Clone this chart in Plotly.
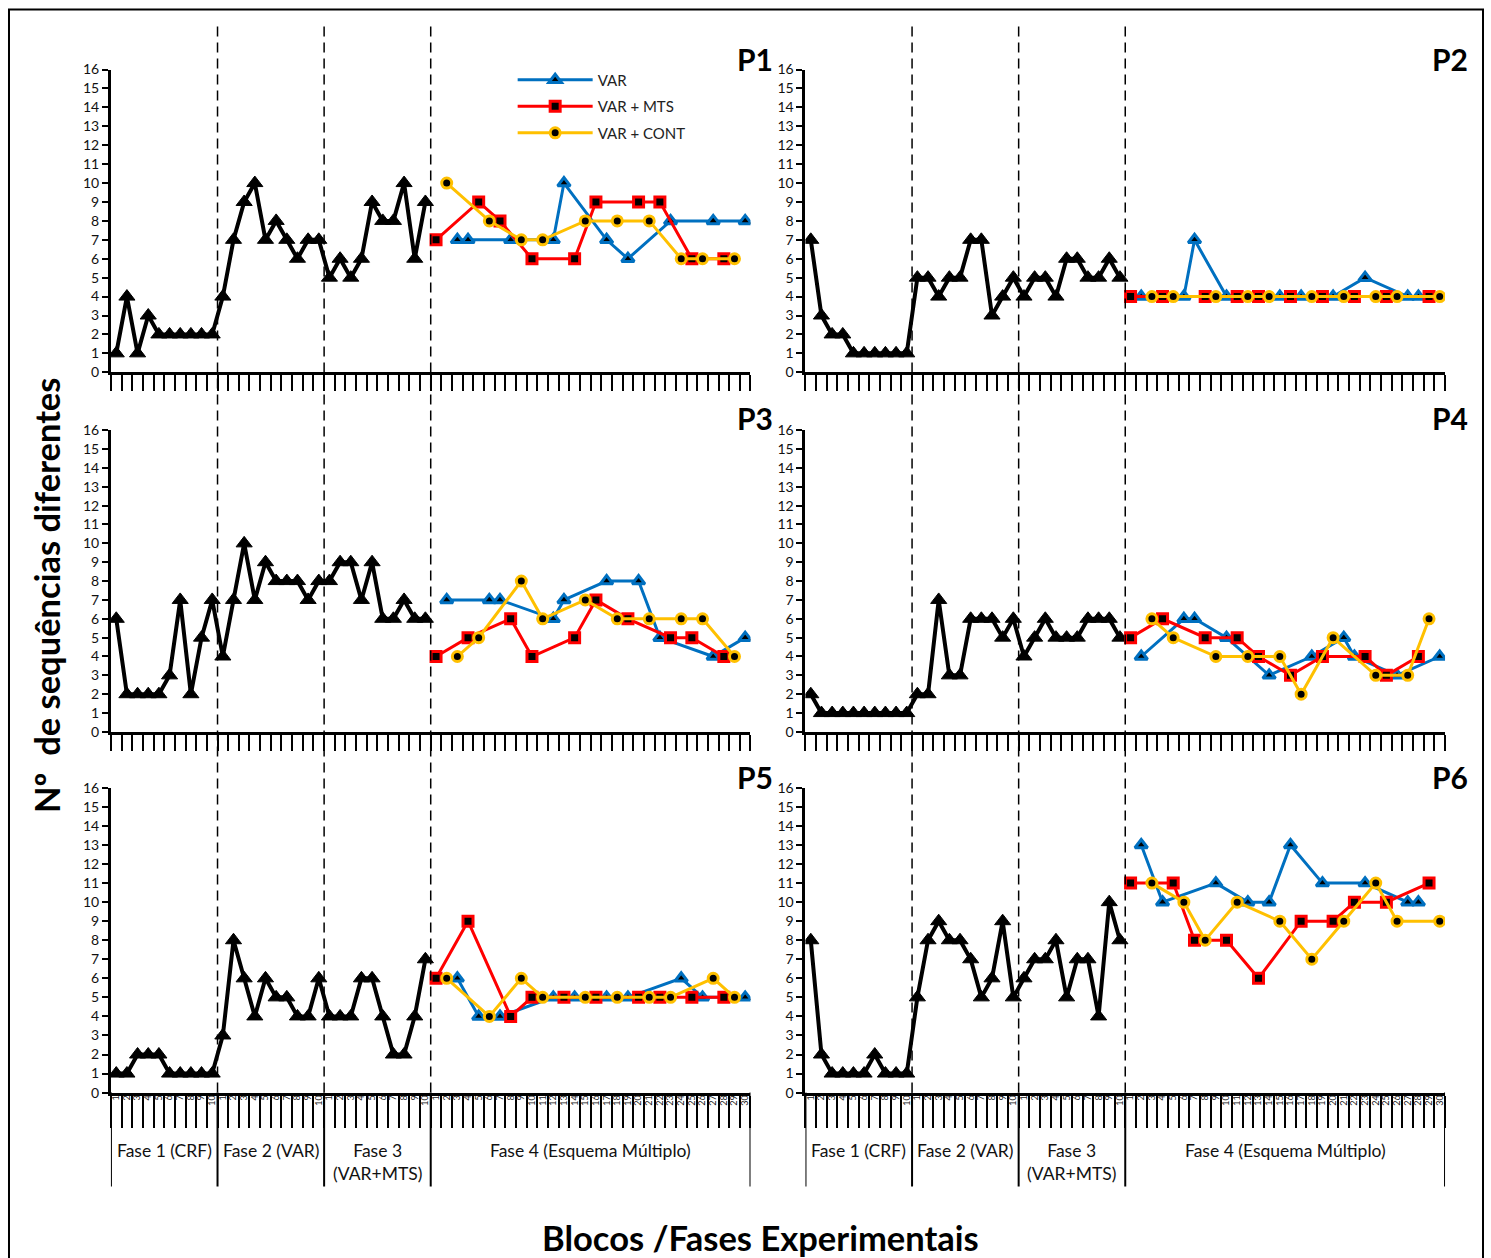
import plotly.graph_objects as go

W, H = 1491, 1258

# ---- Data: number of different sequences per block ----
# Fase 1 (CRF), Fase 2 (VAR), Fase 3 (VAR+MTS): 10 blocks each
# Fase 4 (Esquema Múltiplo): 30 blocks, components VAR / VAR + MTS / VAR + CONT

p1_crf = [1, 4, 1, 3, 2, 2, 2, 2, 2, 2]
p1_var = [4, 7, 9, 10, 7, 8, 7, 6, 7, 7]
p1_mts = [5, 6, 5, 6, 9, 8, 8, 10, 6, 9]
p1_mult_var_blocos = [3, 4, 8, 12, 13, 17, 19, 23, 27, 30]
p1_mult_var = [7, 7, 7, 7, 10, 7, 6, 8, 8, 8]
p1_mult_mts_blocos = [1, 5, 7, 10, 14, 16, 20, 22, 25, 28]
p1_mult_mts = [7, 9, 8, 6, 6, 9, 9, 9, 6, 6]
p1_mult_cont_blocos = [2, 6, 9, 11, 15, 18, 21, 24, 26, 29]
p1_mult_cont = [10, 8, 7, 7, 8, 8, 8, 6, 6, 6]

p2_crf = [7, 3, 2, 2, 1, 1, 1, 1, 1, 1]
p2_var = [5, 5, 4, 5, 5, 7, 7, 3, 4, 5]
p2_mts = [4, 5, 5, 4, 6, 6, 5, 5, 6, 5]
p2_mult_var_blocos = [2, 6, 7, 10, 15, 17, 20, 23, 27, 28]
p2_mult_var = [4, 4, 7, 4, 4, 4, 4, 5, 4, 4]
p2_mult_mts_blocos = [1, 4, 8, 11, 13, 16, 19, 22, 25, 29]
p2_mult_mts = [4, 4, 4, 4, 4, 4, 4, 4, 4, 4]
p2_mult_cont_blocos = [3, 5, 9, 12, 14, 18, 21, 24, 26, 30]
p2_mult_cont = [4, 4, 4, 4, 4, 4, 4, 4, 4, 4]

p3_crf = [6, 2, 2, 2, 2, 3, 7, 2, 5, 7]
p3_var = [4, 7, 10, 7, 9, 8, 8, 8, 7, 8]
p3_mts = [8, 9, 9, 7, 9, 6, 6, 7, 6, 6]
p3_mult_var_blocos = [2, 6, 7, 12, 13, 17, 20, 22, 27, 30]
p3_mult_var = [7, 7, 7, 6, 7, 8, 8, 5, 4, 5]
p3_mult_mts_blocos = [1, 4, 8, 10, 14, 16, 19, 23, 25, 28]
p3_mult_mts = [4, 5, 6, 4, 5, 7, 6, 5, 5, 4]
p3_mult_cont_blocos = [3, 5, 9, 11, 15, 18, 21, 24, 26, 29]
p3_mult_cont = [4, 5, 8, 6, 7, 6, 6, 6, 6, 4]

p4_crf = [2, 1, 1, 1, 1, 1, 1, 1, 1, 1]
p4_var = [2, 2, 7, 3, 3, 6, 6, 6, 5, 6]
p4_mts = [4, 5, 6, 5, 5, 5, 6, 6, 6, 5]
p4_mult_var_blocos = [2, 6, 7, 10, 14, 18, 21, 22, 26, 30]
p4_mult_var = [4, 6, 6, 5, 3, 4, 5, 4, 3, 4]
p4_mult_mts_blocos = [1, 4, 8, 11, 13, 16, 19, 23, 25, 28]
p4_mult_mts = [5, 6, 5, 5, 4, 3, 4, 4, 3, 4]
p4_mult_cont_blocos = [3, 5, 9, 12, 15, 17, 20, 24, 27, 29]
p4_mult_cont = [6, 5, 4, 4, 4, 2, 5, 3, 3, 6]

p5_crf = [1, 1, 2, 2, 2, 1, 1, 1, 1, 1]
p5_var = [3, 8, 6, 4, 6, 5, 5, 4, 4, 6]
p5_mts = [4, 4, 4, 6, 6, 4, 2, 2, 4, 7]
p5_mult_var_blocos = [3, 5, 7, 12, 14, 17, 19, 24, 26, 30]
p5_mult_var = [6, 4, 4, 5, 5, 5, 5, 6, 5, 5]
p5_mult_mts_blocos = [1, 4, 8, 10, 13, 16, 20, 22, 25, 28]
p5_mult_mts = [6, 9, 4, 5, 5, 5, 5, 5, 5, 5]
p5_mult_cont_blocos = [2, 6, 9, 11, 15, 18, 21, 23, 27, 29]
p5_mult_cont = [6, 4, 6, 5, 5, 5, 5, 5, 6, 5]

p6_crf = [8, 2, 1, 1, 1, 1, 2, 1, 1, 1]
p6_var = [5, 8, 9, 8, 8, 7, 5, 6, 9, 5]
p6_mts = [6, 7, 7, 8, 5, 7, 7, 4, 10, 8]
p6_mult_var_blocos = [2, 4, 9, 12, 14, 16, 19, 23, 27, 28]
p6_mult_var = [13, 10, 11, 10, 10, 13, 11, 11, 10, 10]
p6_mult_mts_blocos = [1, 5, 7, 10, 13, 17, 20, 22, 25, 29]
p6_mult_mts = [11, 11, 8, 8, 6, 9, 9, 10, 10, 11]
p6_mult_cont_blocos = [3, 6, 8, 11, 15, 18, 21, 24, 26, 30]
p6_mult_cont = [11, 10, 8, 10, 9, 7, 9, 11, 9, 9]

participantes = ["P1", "P2", "P3", "P4", "P5", "P6"]
fases = ["Fase 1 (CRF)", "Fase 2 (VAR)", "Fase 3<br>(VAR+MTS)", "Fase 4 (Esquema Múltiplo)"]
blocos_por_fase = [10, 10, 10, 30]
y_ticks = list(range(0, 17))
serie_nomes = ["VAR", "VAR + MTS", "VAR + CONT"]
serie_cores = ["#0070C0", "#FF0000", "#FFC000"]
serie_simbolos = ["triangle-up", "square", "circle"]

dados = {
    "P1": (p1_crf, p1_var, p1_mts, [(p1_mult_var_blocos, p1_mult_var), (p1_mult_mts_blocos, p1_mult_mts), (p1_mult_cont_blocos, p1_mult_cont)]),
    "P2": (p2_crf, p2_var, p2_mts, [(p2_mult_var_blocos, p2_mult_var), (p2_mult_mts_blocos, p2_mult_mts), (p2_mult_cont_blocos, p2_mult_cont)]),
    "P3": (p3_crf, p3_var, p3_mts, [(p3_mult_var_blocos, p3_mult_var), (p3_mult_mts_blocos, p3_mult_mts), (p3_mult_cont_blocos, p3_mult_cont)]),
    "P4": (p4_crf, p4_var, p4_mts, [(p4_mult_var_blocos, p4_mult_var), (p4_mult_mts_blocos, p4_mult_mts), (p4_mult_cont_blocos, p4_mult_cont)]),
    "P5": (p5_crf, p5_var, p5_mts, [(p5_mult_var_blocos, p5_mult_var), (p5_mult_mts_blocos, p5_mult_mts), (p5_mult_cont_blocos, p5_mult_cont)]),
    "P6": (p6_crf, p6_var, p6_mts, [(p6_mult_var_blocos, p6_mult_var), (p6_mult_mts_blocos, p6_mult_mts), (p6_mult_cont_blocos, p6_mult_cont)]),
}

# ---- Layout geometry (pixels -> paper) ----
# the page is shown with a small top offset and vertical squeeze; positions below
# are given in on-screen pixels and converted back to figure coordinates
Y_OFF, Y_SCALE = 8.4, 0.9874

def px(x):
    return x / W

def py(y):
    return 1 - ((y - Y_OFF) / Y_SCALE) / H

col_dom = [(px(110), px(750)), (px(805), px(1445))]
row_px = [(372, 69), (732, 430), (1093, 788)]  # (y of 0, y of 16)
row_dom = [(py(a), py(b)) for a, b in row_px]

FONT = "Lato"
n_total = sum(blocos_por_fase)
limites = [0.5]
for n in blocos_por_fase:
    limites.append(limites[-1] + n)
inicio_f4 = limites[3] - 0.5  # offset of Fase 4 blocks

fig = go.Figure()
layout = dict(
    width=W, height=H, margin=dict(l=0, r=0, t=0, b=0),
    paper_bgcolor="white", plot_bgcolor="white",
    font=dict(family=FONT, color="black"),
    showlegend=True,
)
shapes, annotations = [], []

for i, p in enumerate(participantes):
    idx = i + 1
    r, c = divmod(i, 2)
    xa = "x" if idx == 1 else f"x{idx}"
    ya = "y" if idx == 1 else f"y{idx}"
    xkey = "xaxis" if idx == 1 else f"xaxis{idx}"
    ykey = "yaxis" if idx == 1 else f"yaxis{idx}"
    bottom = r == 2

    layout[xkey] = dict(
        domain=list(col_dom[c]), anchor=ya, range=[0.5, n_total + 0.5],
        tickmode="linear", tick0=0.5, dtick=1,
        ticks="outside", ticklen=32 if bottom else 16, tickwidth=2, tickcolor="black",
        showticklabels=False, showline=True, linewidth=3, linecolor="black",
        showgrid=False, zeroline=False, fixedrange=True,
    )
    layout[ykey] = dict(
        domain=list(row_dom[r]), anchor=xa, range=[0, 16],
        tickmode="array", tickvals=y_ticks, ticktext=[str(v) for v in y_ticks],
        ticks="outside", ticklen=6, tickwidth=2, tickcolor="black",
        tickfont=dict(size=14, family=FONT, color="#111"),
        showline=True, linewidth=3, linecolor="black",
        showgrid=False, zeroline=False, fixedrange=True,
    )

    crf, var, mts, mult = dados[p]
    base = crf + var + mts
    fig.add_trace(go.Scatter(
        x=list(range(1, len(base) + 1)), y=base, xaxis=xa, yaxis=ya,
        mode="lines+markers", showlegend=False,
        line=dict(color="black", width=4),
        marker=dict(symbol="triangle-up", size=14, color="black", line=dict(color="black", width=1)),
        hoverinfo="skip",
    ))
    for s, (blocos, vals) in enumerate(mult):
        fig.add_trace(go.Scatter(
            x=[inicio_f4 + b for b in blocos], y=vals, xaxis=xa, yaxis=ya,
            mode="lines+markers", name=serie_nomes[s], showlegend=(idx == 1),
            legendgroup=serie_nomes[s],
            line=dict(color=serie_cores[s], width=3),
            marker=dict(symbol=serie_simbolos[s], size=11 if s == 0 else 10, color="black",
                        line=dict(color=serie_cores[s], width=3)),
            hoverinfo="skip",
        ))

    # participant label
    annotations.append(dict(
        text=f"<b>{p}</b>", xref="paper", yref="paper",
        x=px(755) if c == 0 else px(1450), y=py([58, 418, 777][r]),
        showarrow=False, font=dict(size=30, family=FONT, color="black"),
        xanchor="center", yanchor="middle",
    ))

    # block number labels and phase groups under the bottom row
    if bottom:
        lab_key = f"xaxis{6 + c + 1}"
        lab_ref = f"x{6 + c + 1}"
        ticktext = []
        for n in blocos_por_fase:
            ticktext += [str(k) for k in range(1, n + 1)]
        layout[lab_key] = dict(
            overlaying=xa, anchor=ya, side="bottom", range=[0.5, n_total + 0.5],
            tickmode="array", tickvals=list(range(1, n_total + 1)), ticktext=ticktext,
            ticks="", tickangle=-90, tickfont=dict(size=9, family=FONT, color="#111"),
            showline=False, showgrid=False, zeroline=False, fixedrange=True,
        )
        # invisible helper trace so the label axis is drawn
        fig.add_trace(go.Scatter(x=[1], y=[0], xaxis=lab_ref, yaxis=ya, mode="markers",
                                 marker=dict(opacity=0), showlegend=False, hoverinfo="skip"))
        for lim in limites:
            shapes.append(dict(type="line", xref=xa, yref="paper", x0=lim, x1=lim,
                               y0=row_dom[2][0], y1=py(1187), line=dict(color="black", width=2)))
        for f, nome in enumerate(fases):
            cx = (limites[f] + limites[f + 1]) / 2
            annotations.append(dict(
                text=nome, xref=xa, yref="paper", x=cx,
                y=py(1162) if "<br>" in nome else py(1151),
                showarrow=False, font=dict(size=17.5, family=FONT, color="#111"),
                xanchor="center", yanchor="middle",
            ))

# dashed phase separators running through all three rows
for c in range(2):
    xa = "x5" if c == 0 else "x6"
    for lim in limites[1:4]:
        shapes.append(dict(type="line", xref=xa, yref="paper", x0=lim, x1=lim,
                           y0=row_dom[2][0], y1=py(25),
                           line=dict(color="black", width=1.5, dash="10px,6px")))

# outer frame
shapes.append(dict(type="rect", xref="paper", yref="paper", x0=px(8), x1=px(1483),
                   y0=-0.02, y1=py(8.9), line=dict(color="black", width=2)))

annotations.append(dict(
    text="<b>Blocos /Fases Experimentais</b>", xref="paper", yref="paper",
    x=px(760), y=py(1238), showarrow=False,
    font=dict(size=34.5, family=FONT, color="black"), xanchor="center", yanchor="middle",
))
annotations.append(dict(
    text="<b>Nº  de sequências diferentes</b>", xref="paper", yref="paper",
    x=px(45), y=py(595), showarrow=False, textangle=-90,
    font=dict(size=34.5, family=FONT, color="black"), xanchor="center", yanchor="middle",
))

layout["shapes"] = shapes
layout["annotations"] = annotations
layout["legend"] = dict(
    x=px(512), y=py(63), xanchor="left", yanchor="top",
    bgcolor="rgba(0,0,0,0)", font=dict(size=15, family=FONT, color="#222"),
    itemwidth=75, tracegroupgap=4,
)
fig.update_layout(**layout)
fig.write_html("out.html")
